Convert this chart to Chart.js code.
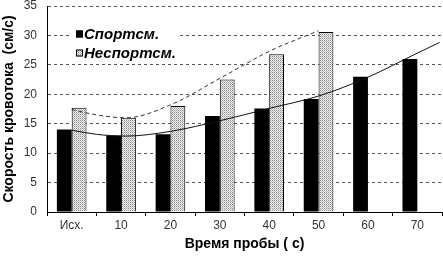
<!DOCTYPE html>
<html>
<head>
<meta charset="utf-8">
<script src="https://cdn.jsdelivr.net/npm/chart.js@4"></script>
<style>
  html, body { margin: 0; padding: 0; background: #fff; }
  #wrap { width: 443px; height: 256px; }
</style>
</head>
<body>
<div id="wrap"><canvas id="chart" width="443" height="256"></canvas></div>
<script>
const categories = ["Исх.", "10", "20", "30", "40", "50", "60", "70"];
const sportLabel = "Спортсм.";
const nonSportLabel = "Неспортсм.";
const sportValues = [14.0, 13.0, 13.2, 16.3, 17.6, 19.2, 23.0, 26.0];
const nonSportValues = [17.7, 16.0, 18.0, 22.5, 26.8, 30.6, null, null];

// trend curves (x = category index)
const sportTrendX = [0, 0.5, 1.1, 2, 3, 4, 5, 6, 7, 7.45];
const sportTrendY = [13.9, 13.2, 12.9, 13.7, 15.5, 17.6, 19.7, 22.9, 27.0, 28.8];
const nonSportTrendX = [0, 0.5, 1.1, 2, 3, 4, 5];
const nonSportTrendY = [17.4, 16.5, 16.0, 18.2, 22.7, 27.3, 30.8];

const yMin = 0;
const yMax = 35;
const yStep = 5;

const xTitle = "Время пробы ( с)";
const yTitle = "Скорость кровотока  (см/с)";

const FONT = "'Liberation Sans', Arial, sans-serif";

function makeDots() {
  const c = document.createElement("canvas");
  c.width = 2;
  c.height = 2;
  const g = c.getContext("2d");
  g.fillStyle = "#f0f0f0";
  g.fillRect(0, 0, 2, 2);
  g.fillStyle = "#8c8c8c";
  g.fillRect(0, 0, 1, 1);
  g.fillStyle = "#bcbcbc";
  g.fillRect(1, 1, 1, 1);
  return g.createPattern(c, "repeat");
}
const dots = makeDots();

function toPoints(xs, ys) {
  return xs.map((x, i) => ({ x: x, y: ys[i] }));
}
const catIndex = categories.map((c, i) => i);

// legend box drawn inside the plot, top left
const boxLegend = {
  id: "boxLegend",
  afterDraw(chart) {
    const ctx = chart.ctx;
    const a = chart.chartArea;
    const x0 = a.left + 23;
    const y0 = a.top + 18;
    ctx.save();
    ctx.fillStyle = "#fff";
    ctx.fillRect(x0, y0, 110, 40);
    const items = [
      { text: sportLabel, fill: "#000" },
      { text: nonSportLabel, fill: dots },
    ];
    ctx.font = "bold italic 15px " + FONT;
    ctx.textBaseline = "middle";
    items.forEach((it, i) => {
      const cy = y0 + 10 + i * 19;
      ctx.fillStyle = it.fill;
      ctx.fillRect(x0 + 6, cy - 3.5, 7, 7);
      ctx.strokeStyle = "#000";
      ctx.lineWidth = 1;
      ctx.strokeRect(x0 + 6.5, cy - 3, 6, 6);
      ctx.fillStyle = "#000";
      ctx.fillText(it.text, x0 + 14, cy + 1);
    });
    ctx.restore();
  },
};

new Chart(document.getElementById("chart"), {
  type: "bar",
  data: {
    labels: categories,
    datasets: [
      {
        type: "line",
        data: toPoints(sportTrendX, sportTrendY),
        xAxisID: "xl",
        borderColor: "#111",
        borderWidth: 1,
        pointRadius: 0,
        cubicInterpolationMode: "monotone",
        order: 0,
      },
      {
        type: "line",
        data: toPoints(nonSportTrendX, nonSportTrendY),
        xAxisID: "xl",
        borderColor: "#333",
        borderWidth: 1,
        borderDash: [4, 3],
        pointRadius: 0,
        cubicInterpolationMode: "monotone",
        order: 0,
      },
      {
        label: sportLabel,
        data: toPoints(catIndex, sportValues),
        xAxisID: "xl",
        backgroundColor: "#000",
        borderWidth: 0,
        order: 1,
      },
      {
        label: nonSportLabel,
        data: toPoints(catIndex, nonSportValues),
        xAxisID: "xl",
        backgroundColor: dots,
        borderColor: "#000",
        borderWidth: 1,
        order: 1,
      },
    ],
  },
  options: {
    responsive: false,
    animation: false,
    datasets: {
      bar: { categoryPercentage: 0.6, barPercentage: 1 },
    },
    layout: { padding: { top: 0, right: 1, left: 0, bottom: 0 } },
    plugins: {
      legend: { display: false },
      tooltip: { enabled: false },
    },
    scales: {
      // visible axis: labels and tick marks between categories
      x: {
        type: "category",
        offset: true,
        afterFit: (s) => { s.height = 44; },
        grid: {
          display: true,
          offset: true,
          drawOnChartArea: false,
          drawTicks: true,
          tickLength: 4,
          tickColor: "#000",
        },
        border: { display: true, color: "#000", width: 1 },
        ticks: {
          color: "#333",
          font: { family: FONT, size: 12 },
          padding: 2,
          maxRotation: 0,
        },
        title: {
          display: true,
          text: xTitle,
          color: "#000",
          font: { family: FONT, size: 14, weight: "bold" },
          padding: { top: 0, bottom: 3 },
        },
      },
      // hidden linear twin of x: bars and trend curves are placed on it
      xl: {
        type: "linear",
        display: false,
        offset: false,
        min: -0.5,
        max: categories.length - 0.5,
        afterBuildTicks: (s) => { s.ticks = catIndex.map((i) => ({ value: i })); },
      },
      y: {
        min: yMin,
        max: yMax,
        afterFit: (s) => { s.width = 47; },
        ticks: {
          stepSize: yStep,
          color: "#333",
          padding: 0,
          font: { family: FONT, size: 12, lineHeight: 1 },
        },
        grid: {
          color: "#555",
          lineWidth: 1,
          drawTicks: true,
          tickLength: 10,
          tickColor: "rgba(0,0,0,0)",
        },
        border: { display: true, color: "#000", width: 1, dash: [3, 3] },
        title: {
          display: true,
          text: yTitle,
          color: "#000",
          font: { family: FONT, size: 14, weight: "bold" },
          padding: { top: 1, bottom: 0 },
        },
      },
    },
  },
  plugins: [boxLegend],
});
</script>
</body>
</html>
